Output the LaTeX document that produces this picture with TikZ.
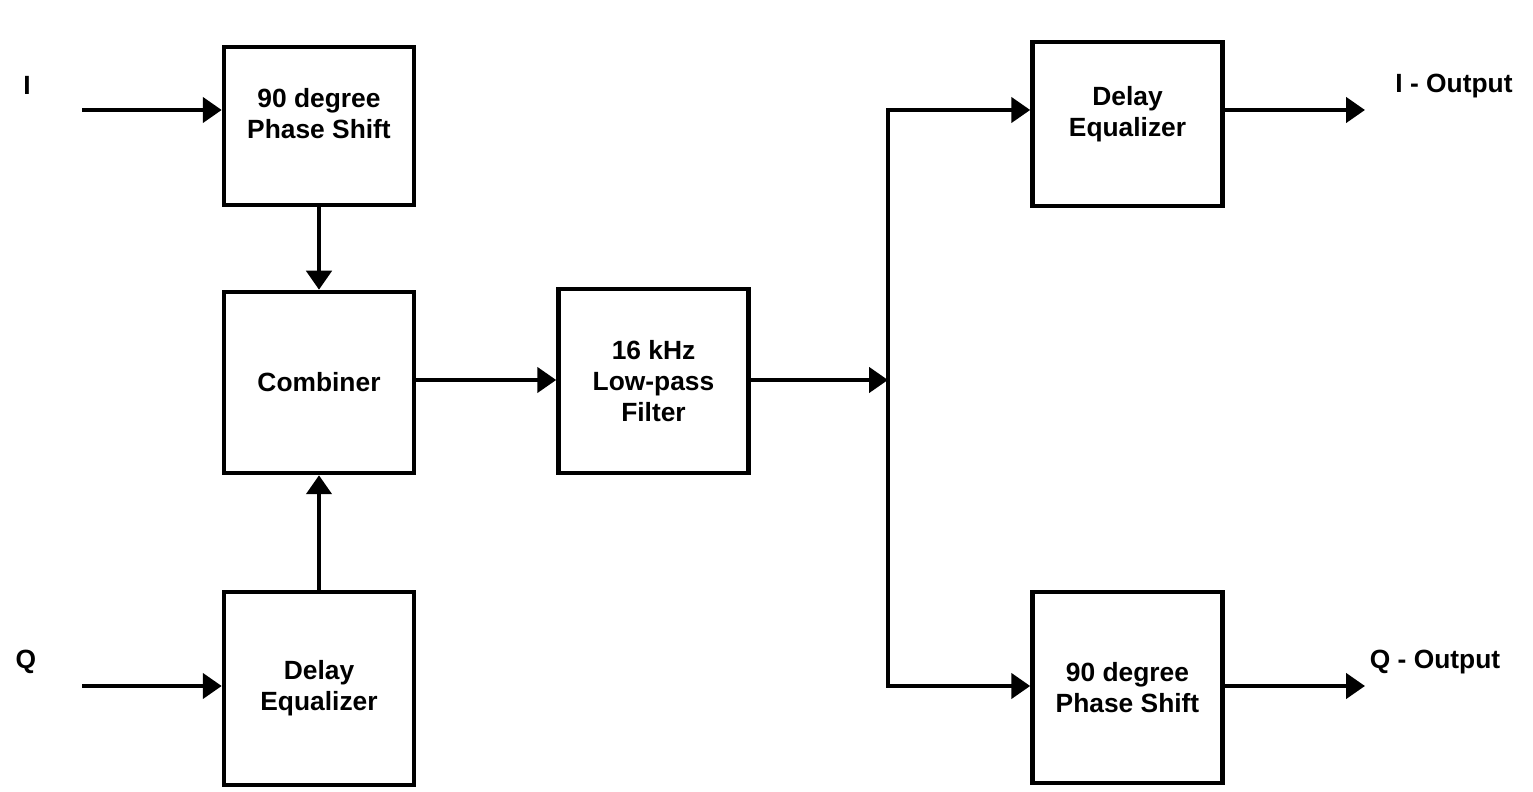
\documentclass[tikz,border=0pt]{standalone}
\usepackage{fontspec}
\setmainfont{Liberation Sans}
\usepackage{tikz}
\usetikzlibrary{arrows.meta,positioning}

\begin{document}
\begin{tikzpicture}[
    block/.style={rectangle, draw, line width=0.09cm, minimum width=3.8cm,
                  align=center, font=\fontsize{15}{17.6}\selectfont\bfseries},
    sig/.style={font=\fontsize{15}{17.6}\selectfont\bfseries},
    arrow/.style={-{Triangle[length=0.38cm,width=0.5cm]}, line width=0.09cm}
]
\useasboundingbox (0,0) rectangle (30.66,15.82);

%% ---- Eingaenge ----
\coordinate (inI) at (1.64,13.62);
\coordinate (inQ) at (1.64, 2.10);
\node[sig] (labI) at (0.54,14.12) {I};
\node[sig] (labQ) at (0.52, 2.58) {Q};

%% ---- Linke Spalte ----
\node[block, minimum height=3.16cm] (ps1)  at ( 6.38,13.30) {90 degree\\Phase Shift\\[-0.1cm]};
\node[block, minimum height=3.62cm] (comb) at ( 6.38, 8.17) {Combiner};
\node[block, minimum height=3.86cm] (de1)  at ( 6.38, 2.05) {Delay\\Equalizer};

%% ---- Filter ----
\node[block, minimum height=3.68cm] (lpf)  at (13.07, 8.20) {16 kHz\\Low-pass\\Filter};
\coordinate (split) at (17.76, 8.22);

%% ---- Rechte Spalte ----
\node[block, minimum height=3.28cm] (de2)  at (22.55,13.34) {Delay\\Equalizer\\[-0.1cm]};
\node[block, minimum height=3.82cm] (ps2)  at (22.55, 2.07) {90 degree\\Phase Shift};

%% ---- Ausgaenge ----
\coordinate (outI) at (27.30,13.62);
\coordinate (outQ) at (27.30, 2.10);
\node[sig] (labIout) at (29.08,14.10) {I - Output};
\node[sig] (labQout) at (28.70, 2.58) {Q - Output};

\draw[arrow] (inI) -- (inI -| ps1.west);
\draw[arrow] (inQ) -- (inQ -| de1.west);
\draw[arrow] (ps1) -- (comb);
\draw[arrow] (de1) -- (comb);
\draw[arrow] (comb.east |- split) -- (lpf.west |- split);
\draw[arrow] (lpf.east |- split) -- (split);
\draw[arrow] (split) |- (inI -| de2.west);
\draw[arrow] (split) |- (inQ -| ps2.west);
\draw[arrow] (inI -| de2.east) -- (outI);
\draw[arrow] (inQ -| ps2.east) -- (outQ);

\end{tikzpicture}
\end{document}
